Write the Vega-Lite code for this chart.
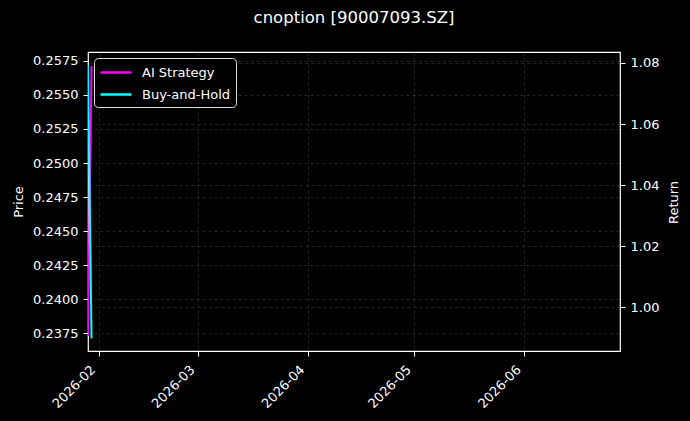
{
  "$schema": "https://vega.github.io/schema/vega-lite/v6.json",
  "width": 532,
  "height": 299,
  "autosize": {"type": "none"},
  "padding": {"left": 88, "top": 52, "right": 70, "bottom": 70},
  "background": "black",
  "config": {
    "font": "DejaVu Sans",
    "view": {"stroke": "white", "strokeWidth": 1.2, "fill": "black"},
    "axis": {
      "labelColor": "white",
      "titleColor": "white",
      "labelFont": "DejaVu Sans",
      "titleFont": "DejaVu Sans",
      "labelFontSize": 13,
      "titleFontSize": 13,
      "titleFontWeight": "normal",
      "tickColor": "white",
      "tickSize": 5,
      "labelPadding": 5,
      "domain": false,
      "gridColor": "#666666",
      "gridOpacity": 0.5,
      "gridDash": [3, 3],
      "gridWidth": 0.7
    },
    "legend": {
      "labelColor": "white",
      "labelFont": "DejaVu Sans",
      "labelFontSize": 13
    }
  },
  "title": {
    "text": "cnoption [90007093.SZ]",
    "color": "white",
    "font": "DejaVu Sans",
    "fontSize": 16.5,
    "fontWeight": "normal",
    "anchor": "middle",
    "offset": 26
  },
  "data": {
    "values": [
      {"date": "2026-01-29T00:00:00", "series": "AI Strategy", "kind": "ret", "value": 0.9905},
      {"date": "2026-01-30T00:00:00", "series": "AI Strategy", "kind": "ret", "value": 1.079},
      {"date": "2026-01-29T00:00:00", "series": "Buy-and-Hold", "kind": "price", "value": 0.2572},
      {"date": "2026-01-30T00:00:00", "series": "Buy-and-Hold", "kind": "price", "value": 0.2371}
    ]
  },
  "encoding": {
    "x": {
      "field": "date",
      "type": "temporal",
      "scale": {
        "domain": [
          {"year": 2026, "month": 1, "date": 29},
          {"year": 2026, "month": 6, "date": 28}
        ]
      },
      "axis": {
        "title": null,
        "format": "%Y-%m",
        "values": [
          {"year": 2026, "month": 2, "date": 1},
          {"year": 2026, "month": 3, "date": 1},
          {"year": 2026, "month": 4, "date": 1},
          {"year": 2026, "month": 5, "date": 1},
          {"year": 2026, "month": 6, "date": 1}
        ],
        "labelAngle": -45,
        "labelAlign": "right",
        "labelBaseline": "top",
        "labelOffset": -10,
        "labelPadding": 7,
        "grid": true
      }
    },
    "color": {
      "field": "series",
      "type": "nominal",
      "scale": {"domain": ["AI Strategy", "Buy-and-Hold"], "range": ["#ff00ff", "#00ffff"]},
      "legend": {
        "title": null,
        "orient": "top-left",
        "offset": 6,
        "fillColor": "black",
        "strokeColor": "#dddddd",
        "cornerRadius": 4,
        "padding": 5,
        "symbolType": "M -1 0 L 2.875 0",
        "symbolSize": 256,
        "symbolStrokeWidth": 2.5,
        "labelOffset": 24,
        "rowPadding": 5
      }
    }
  },
  "layer": [
    {
      "transform": [{"filter": {"field": "kind", "equal": "ret"}}],
      "mark": {"type": "line", "strokeWidth": 2, "clip": true},
      "encoding": {
        "y": {
          "field": "value",
          "type": "quantitative",
          "scale": {"domain": [0.9856, 1.0836], "zero": false, "nice": false},
          "axis": {
            "orient": "right",
            "title": "Return",
            "titleAngle": 270,
            "titleX": 53,
            "titleY": 150,
            "titleAlign": "center",
            "titleBaseline": "middle",
            "values": [1.0, 1.02, 1.04, 1.06, 1.08],
            "format": ".2f",
            "grid": true
          }
        }
      }
    },
    {
      "transform": [{"filter": {"field": "kind", "equal": "price"}}],
      "mark": {"type": "line", "strokeWidth": 2, "clip": true},
      "encoding": {
        "y": {
          "field": "value",
          "type": "quantitative",
          "scale": {"domain": [0.23618, 0.25816], "zero": false, "nice": false},
          "axis": {
            "orient": "left",
            "title": "Price",
            "titlePadding": 7,
            "values": [0.2375, 0.24, 0.2425, 0.245, 0.2475, 0.25, 0.2525, 0.255, 0.2575],
            "format": ".4f",
            "grid": true
          }
        }
      }
    }
  ],
  "resolve": {"scale": {"y": "independent"}}
}
